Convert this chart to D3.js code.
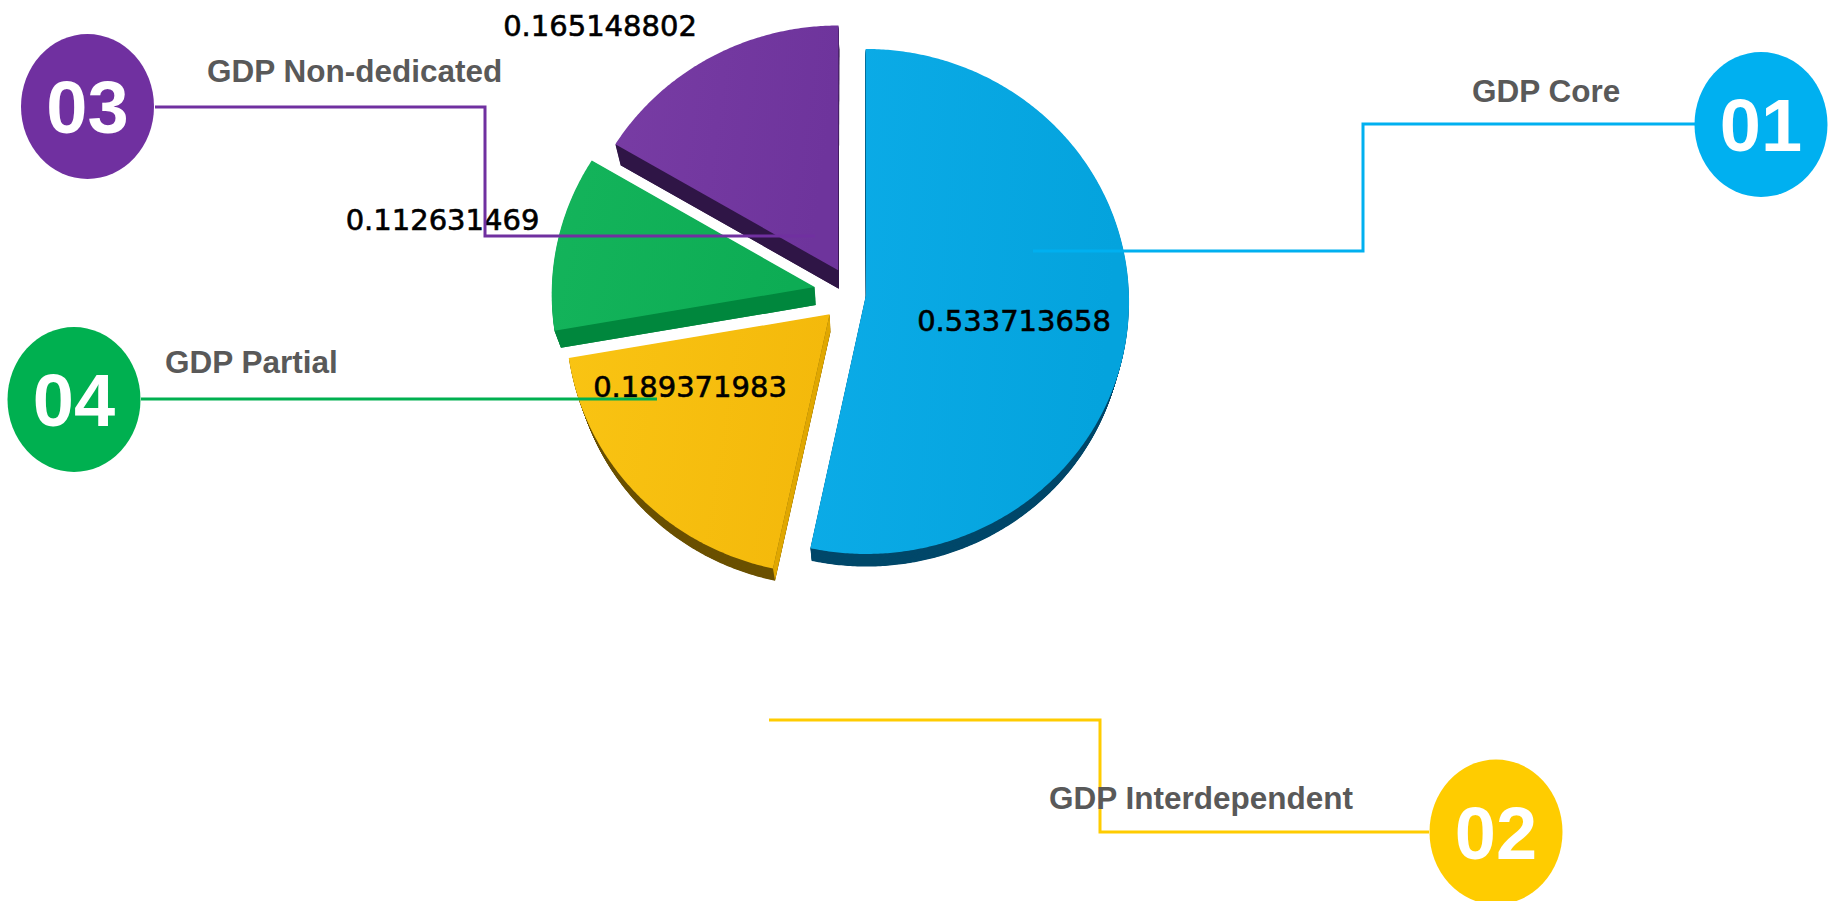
<!DOCTYPE html>
<html>
<head>
<meta charset="utf-8">
<script src="https://cdn.jsdelivr.net/npm/d3@7"></script>
<style>
  html, body { margin: 0; padding: 0; background: #ffffff; overflow: hidden; }
  svg { display: block; }
</style>
</head>
<body>
<svg id="chart" width="1832" height="901"></svg>
<script>
// ---- data ----
const categories = ["GDP Core", "GDP Interdependent", "GDP Partial", "GDP Non-dedicated"];
const values = [0.533713658, 0.189371983, 0.112631469, 0.165148802];
const badgeNumbers = ["01", "02", "04", "03"];

// ---- appearance ----
const topColors = [
  ["#0cace8", "#04a3dd"],
  ["#f9c413", "#f4b90b"],
  ["#14b45b", "#0dac54"],
  ["#783ca4", "#6e349c"]
];
const rimColors = ["#00486a", "#6b5100", "#00873d", "#2f1546"];
const edgeColors = ["#00486a", "#e0a700", "#00873d", "#2f1546"];
const badgeColors = ["#00b0f0", "#ffcc00", "#00b050", "#7030a0"];
const explodeBy = [14, 31, 38, 28];

// tilted pie: centre, radius, vertical squash, perspective distance,
// vanishing point of the extruded sides and the side depth factor
const geo = { cx: 852, cy: 293.6, r: 263, ky: 0.9592, dist: 10284, vx: 871, vy: 1168, depth: 0.0205 };

// call-out placement: badge centre, category label, value label, leader line
const callouts = [
  { badge: [1761, 124.5], label: [1472, 102], value: [1014, 331],
    leader: [[1033, 251], [1363, 251], [1363, 124], [1696, 124]] },
  { badge: [1496, 832], label: [1049, 809], value: [690, 397],
    leader: [[769, 720], [1100, 720], [1100, 832], [1429, 832]] },
  { badge: [74, 399.5], label: [165, 373], value: [442.5, 230],
    leader: [[141, 399], [657, 399]] },
  { badge: [87.5, 106.5], label: [207, 82], value: [600, 36],
    leader: [[155, 107], [485, 107], [485, 236], [815, 236]] }
];

const svg = d3.select("#chart");
const defs = svg.append("defs");

const arcs = d3.pie().sort(null).value(d => d).startAngle(0).endAngle(2 * Math.PI)(values);

function project(u, v) {
  const s = geo.dist / (geo.dist - v);
  return [geo.cx + u * s, geo.cy + geo.ky * v * s];
}
function sink(p, f) {
  return [geo.vx + (p[0] - geo.vx) * (1 - f), geo.vy + (p[1] - geo.vy) * (1 - f)];
}
function slicePoints(d, i) {
  const mid = (d.startAngle + d.endAngle) / 2;
  const ou = explodeBy[i] * Math.sin(mid), ov = -explodeBy[i] * Math.cos(mid);
  const pts = [project(ou, ov)];
  const span = d.endAngle - d.startAngle;
  const n = Math.max(8, Math.ceil(span / (Math.PI / 360)));
  for (let k = 0; k <= n; k++) {
    const a = d.startAngle + span * k / n;
    pts.push(project(ou + geo.r * Math.sin(a), ov - geo.r * Math.cos(a)));
  }
  return pts;
}

const closed = d3.line().curve(d3.curveLinearClosed);
const pieG = svg.append("g").attr("class", "pie");
const layers = 24;

arcs.forEach((d, i) => {
  const pts = slicePoints(d, i);
  const g = pieG.append("g").attr("class", "slice");

  // extruded side: stacked copies sinking toward the vanishing point
  const side = g.append("g");
  for (let k = layers; k >= 1; k--) {
    const f = geo.depth * k / layers;
    side.append("path")
      .attr("d", closed(pts.map(p => sink(p, f))))
      .attr("fill", rimColors[i]);
  }

  // radial side faces that turn toward the viewer
  const apex = pts[0];
  const edges = [
    { end: pts[1], normal: d.startAngle - Math.PI / 2 },
    { end: pts[pts.length - 1], normal: d.endAngle + Math.PI / 2 }
  ];
  edges.forEach(e => {
    const m = [(apex[0] + e.end[0]) / 2, (apex[1] + e.end[1]) / 2];
    const s = sink(m, geo.depth);
    const dot = (s[0] - m[0]) * Math.sin(e.normal) + (s[1] - m[1]) * (-Math.cos(e.normal));
    if (dot > 0.3) {
      g.append("path")
        .attr("d", closed([apex, e.end, sink(e.end, geo.depth), sink(apex, geo.depth)]))
        .attr("fill", edgeColors[i]);
    }
  });

  // top face
  const gid = "face" + i;
  const grad = defs.append("linearGradient").attr("id", gid)
    .attr("x1", "0").attr("y1", "0").attr("x2", "1").attr("y2", "0.15");
  grad.append("stop").attr("offset", "0").attr("stop-color", topColors[i][0]);
  grad.append("stop").attr("offset", "1").attr("stop-color", topColors[i][1]);
  g.append("path")
    .attr("d", closed(pts))
    .attr("fill", `url(#${gid})`);
});

// value labels
svg.append("g").selectAll("text")
  .data(values)
  .join("text")
  .attr("x", (d, i) => callouts[i].value[0])
  .attr("y", (d, i) => callouts[i].value[1])
  .attr("text-anchor", "middle")
  .attr("font-family", "'DejaVu Sans', Verdana, sans-serif")
  .attr("font-size", 29)
  .attr("fill", "#000000")
  .attr("stroke", "#000000")
  .attr("stroke-width", 0.6)
  .text(d => String(d));

// leader lines
svg.append("g").selectAll("path")
  .data(callouts)
  .join("path")
  .attr("d", c => d3.line()(c.leader))
  .attr("fill", "none")
  .attr("stroke", (c, i) => badgeColors[i])
  .attr("stroke-width", 3);

// numbered badges
const badge = svg.append("g").selectAll("g")
  .data(categories)
  .join("g")
  .attr("transform", (d, i) => `translate(${callouts[i].badge[0]},${callouts[i].badge[1]})`);
badge.append("ellipse")
  .attr("rx", 66.5)
  .attr("ry", 72.5)
  .attr("fill", (d, i) => badgeColors[i]);
badge.append("text")
  .attr("y", 26.5)
  .attr("text-anchor", "middle")
  .attr("font-family", "'Liberation Sans', Arial, sans-serif")
  .attr("font-weight", "bold")
  .attr("font-size", 74)
  .attr("fill", "#ffffff")
  .text((d, i) => badgeNumbers[i]);

// category labels
svg.append("g").selectAll("text")
  .data(categories)
  .join("text")
  .attr("x", (d, i) => callouts[i].label[0])
  .attr("y", (d, i) => callouts[i].label[1])
  .attr("font-family", "'Liberation Sans', Arial, sans-serif")
  .attr("font-weight", "bold")
  .attr("font-size", 31.5)
  .attr("fill", "#595959")
  .text(d => d);
</script>
</body>
</html>
